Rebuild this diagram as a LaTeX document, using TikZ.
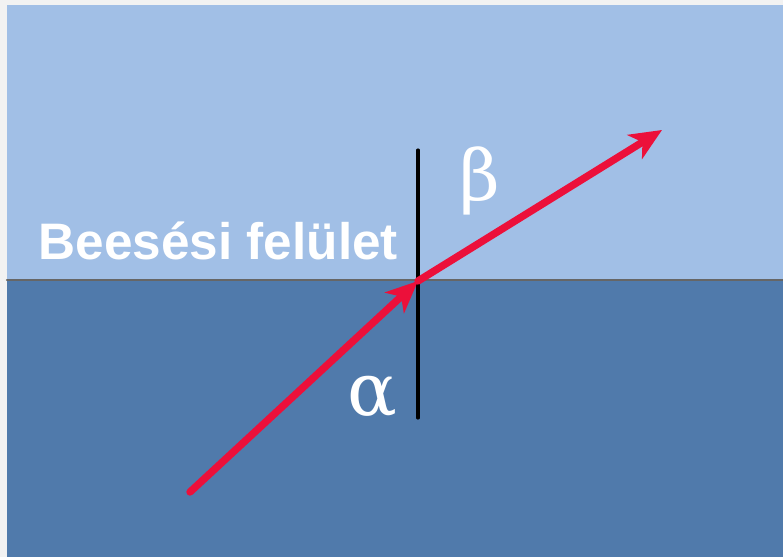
\documentclass[tikz,border=0pt]{standalone}
\usepackage{fontspec}
\setmainfont{Liberation Serif}
\newfontfamily\labelfont{Liberation Sans}
\newfontfamily\greekfont{DejaVu Serif}
\usepackage{tikz}
\usetikzlibrary{calc, arrows.meta}
\usepackage{tkz-euclide}
\definecolor{air}{RGB}{161,191,230}
\definecolor{water}{RGB}{80,122,171}
\definecolor{ray}{RGB}{236,16,58}
\definecolor{frame}{RGB}{242,242,242}

\begin{document}
\begin{tikzpicture}[raytip/.style={-{Stealth[length=0.32cm, width=0.28cm, inset=0.09cm]}}]
                \useasboundingbox (0,0) rectangle (7.83,5.57);
                \fill[frame] (0,0) rectangle (7.83,5.57);
                \fill[air] (0.07,2.77) rectangle (7.83,5.52);
                \fill[water] (0.07,0) rectangle (7.83,2.77);
                \tkzDefPoint(0.07,2.77){L}
                \tkzDefPoint(7.83,2.77){R}
                \tkzDefPoint(4.18,4.07){N}
                \tkzDefPoint(4.18,1.39){M}
                \tkzDefPoint(1.90,0.65){A}
                \tkzDefPoint(4.18,2.76){P}
                \tkzDefPoint(6.62,4.27){B}
                \tkzDrawSegment[gray!80!black, line width=0.6pt](L,R)
                \tkzDrawSegment[black, line width=0.9pt](N,M)
                \tkzDrawSegment[ray, line width=2.1pt, raytip](A,P)
                \tkzDrawSegment[ray, line width=2.1pt, raytip](P,B)
                \node[anchor=base west, text=white, inner sep=0pt] (felulet) at (0.38,2.98)
                    {\labelfont\bfseries\fontsize{14.6}{17}\selectfont Beesési felület};
                \node[text=white, inner sep=0pt] (alpha) at (3.72,1.60) {\greekfont\fontsize{21}{24}\selectfont α};
                \node[text=white, inner sep=0pt] (beta) at (4.80,3.76) {\greekfont\fontsize{20}{24}\selectfont β};
            \end{tikzpicture}
\end{document}
